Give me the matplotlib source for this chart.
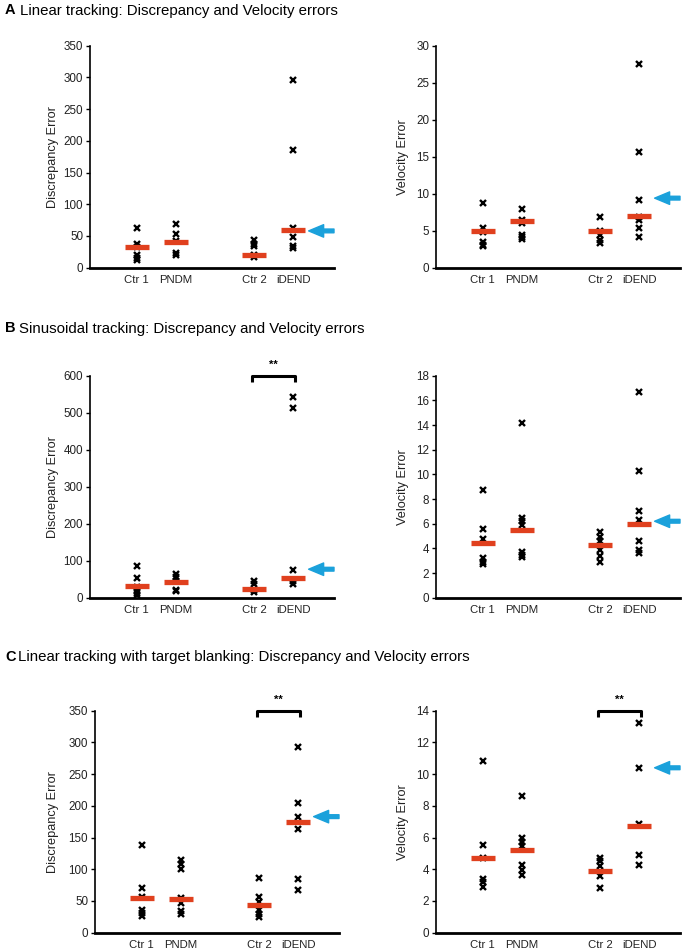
import matplotlib
matplotlib.use("Agg")
import matplotlib.pyplot as plt
from matplotlib.patches import FancyArrowPatch

plt.rcParams['font.family'] = ['Liberation Sans', 'DejaVu Sans']

# groups on the x axis
cats = ['Ctr 1', 'PNDM', 'Ctr 2', 'iDEND']
xpos = [1, 2, 4, 5]

# A: linear tracking
a_disc = [[62, 37, 33, 20, 15, 12], [69, 53, 42, 23, 20],
          [43, 38, 35, 20, 17], [296, 186, 62, 49, 35, 31]]
a_disc_mean = [33, 40, 20, 59]
a_vel = [[8.7, 5.3, 4.8, 3.5, 3.1, 2.9], [8.0, 6.4, 6.0, 4.4, 4.1, 3.9],
         [6.9, 5.0, 4.4, 3.8, 3.4], [27.5, 15.6, 9.2, 6.8, 6.5, 5.3, 4.1]]
a_vel_mean = [4.9, 6.3, 4.9, 7.0]

# B: sinusoidal tracking
b_disc = [[85, 52, 30, 18, 12, 8], [63, 57, 44, 22, 18],
          [46, 38, 22, 15], [543, 513, 75, 45, 36]]
b_disc_mean = [31, 43, 23, 54]
b_vel = [[8.7, 5.6, 4.8, 3.2, 2.9, 2.7], [14.2, 6.5, 6.2, 5.9, 3.7, 3.5, 3.3],
         [5.3, 4.9, 4.6, 3.9, 3.4, 2.9], [16.7, 10.3, 7.0, 6.3, 4.6, 3.9, 3.6]]
b_vel_mean = [4.4, 5.5, 4.3, 6.0]

# C: linear tracking with target blanking
c_disc = [[138, 70, 56, 36, 31, 27], [114, 108, 100, 55, 47, 34, 30],
          [86, 56, 49, 36, 30, 24], [293, 204, 183, 163, 84, 67]]
c_disc_mean = [55, 53, 43, 174]
c_vel = [[10.8, 5.5, 4.7, 3.4, 3.2, 2.9], [8.65, 6.0, 5.75, 5.45, 4.25, 3.95, 3.65],
         [4.7, 4.5, 4.2, 3.6, 2.85], [13.2, 10.4, 6.85, 4.9, 4.3]]
c_vel_mean = [4.7, 5.2, 3.9, 6.7]

# arrow heights (patient value marked in blue)
arrow_y = {'a_disc': 58, 'a_vel': 9.4, 'b_disc': 77, 'b_vel': 6.2,
           'c_disc': 183, 'c_vel': 10.4}

titles = ['Linear tracking: Discrepancy and Velocity errors',
          'Sinusoidal tracking: Discrepancy and Velocity errors',
          'Linear tracking with target blanking: Discrepancy and Velocity errors']

RED = '#E0401E'
BLUE = '#1BA1DB'
W, H = 687, 952


def draw_panel(ax, values, means, ymax, ystep, ylabel, ay, sig, label_dx):
    for x, vals in zip(xpos, values):
        ax.plot([x] * len(vals), vals, linestyle='none', marker='x',
                color='black', markersize=5, mew=1.7, zorder=2, clip_on=False)
    for x, m in zip(xpos, means):
        ax.hlines(m, x - 0.31, x + 0.31, color=RED, lw=3.8, zorder=3)

    ax.set_xlim(-0.2, 6.05)
    ax.set_ylim(0, ymax)
    ax.set_yticks([i * ystep for i in range(int(round(ymax / ystep)) + 1)])
    ax.set_xticks(xpos)
    ax.set_xticklabels(cats)
    ax.tick_params(axis='x', length=0, pad=5, labelsize=8.2, labelcolor='#222222')
    ax.tick_params(axis='y', length=3, width=1, pad=2, labelsize=8.4,
                   labelcolor='#222222')
    for s in ['top', 'right']:
        ax.spines[s].set_visible(False)
    ax.spines['left'].set_linewidth(1.2)
    ax.spines['bottom'].set_linewidth(2)
    ax.set_ylabel(ylabel, fontsize=9.2, color='#222222')
    ax.yaxis.set_label_coords(label_dx, 0.5)

    arr = FancyArrowPatch((6.05, ay), (5.4, ay),
                          arrowstyle='simple,head_length=0.6,head_width=0.5,tail_width=0.15',
                          mutation_scale=18, color=BLUE, shrinkA=0, shrinkB=0,
                          clip_on=False, zorder=4)
    ax.add_patch(arr)

    if sig:
        leg = ymax * 0.03
        ax.plot([3.95, 3.95, 5.05, 5.05], [ymax - leg, ymax, ymax, ymax - leg],
                color='black', lw=2.2, clip_on=False, solid_capstyle='butt')
        ax.text(4.5, ymax * 1.025, '**', ha='center', va='bottom',
                fontsize=8, fontweight='bold')


fig = plt.figure(figsize=(W / 100, H / 100), dpi=100)

rows = [
    (a_disc, a_disc_mean, 350, 50, a_vel, a_vel_mean, 30, 5, 'a', False, False, 267.7, 90),
    (b_disc, b_disc_mean, 600, 100, b_vel, b_vel_mean, 18, 2, 'b', True, False, 597.7, 90),
    (c_disc, c_disc_mean, 350, 50, c_vel, c_vel_mean, 14, 2, 'c', True, True, 932.7, 95),
]
title_y = [10.5, 328.5, 657]
title_dx = [20, 19, 18]

for i, (dv, dm, dmax, dstep, vv, vm, vmax, vstep, key, sig_l, sig_r, bottom, left) in enumerate(rows):
    h = 222 / H
    ax1 = fig.add_axes([left / W, 1 - bottom / H, 244 / W, h])
    draw_panel(ax1, dv, dm, dmax, dstep, 'Discrepancy Error', arrow_y[key + '_disc'],
               sig_l, -(left - 59) / 244)
    ax2 = fig.add_axes([436 / W, 1 - bottom / H, 244 / W, h])
    draw_panel(ax2, vv, vm, vmax, vstep, 'Velocity Error', arrow_y[key + '_vel'],
               sig_r, -27 / 244)

    ty = 1 - title_y[i] / H
    fig.text(5 / W, ty, 'ABC'[i], fontsize=10.5, fontweight='bold', va='center')
    fig.text(title_dx[i] / W, ty, titles[i], fontsize=10.8, va='center')

fig.savefig('out.png', dpi=100)
